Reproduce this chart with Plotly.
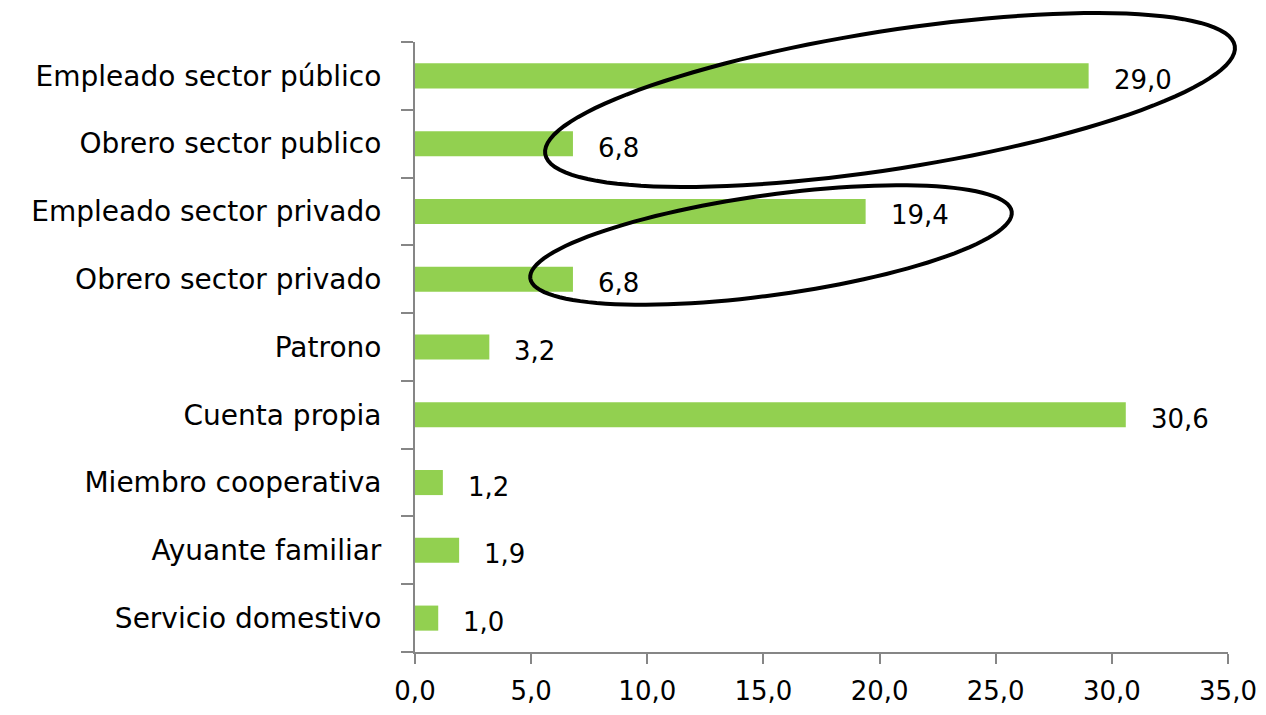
import math
import plotly.graph_objects as go

# categories top to bottom
categories = [
    "Empleado sector público",
    "Obrero sector publico",
    "Empleado sector privado",
    "Obrero sector privado",
    "Patrono",
    "Cuenta propia",
    "Miembro cooperativa",
    "Ayuante familiar",
    "Servicio domestivo",
]
values = [29.0, 6.8, 19.4, 6.8, 3.2, 30.6, 1.2, 1.9, 1.0]
x_ticks = [0, 5, 10, 15, 20, 25, 30, 35]

# page body has an 8px margin, so the figure is drawn slightly smaller
OFF = 8
W, H = 1250, 699
L, R, T, B = 415 - OFF, 30, 42 - OFF, 55
pw, ph = W - L - R, H - T - B

FONT = "DejaVu Sans, sans-serif"
GREY = "#868686"


def ellipse_path(cx, cy, a, b, deg, n=120):
    # ellipse in screen pixels, tilted up to the right, converted to paper coords
    th = math.radians(deg)
    cx, cy = cx - OFF, cy - OFF
    pts = []
    for i in range(n + 1):
        t = 2 * math.pi * i / n
        x = cx + a * math.cos(t) * math.cos(th) + b * math.sin(t) * math.sin(th)
        y = cy - a * math.cos(t) * math.sin(th) + b * math.sin(t) * math.cos(th)
        pts.append(((x - L) / pw, 1 - (y - T) / ph))
    return "M " + " L ".join(f"{px:.5f},{py:.5f}" for px, py in pts) + " Z"


fig = go.Figure()
fig.add_trace(go.Bar(
    x=values, y=categories, orientation="h",
    marker_color="#92D050", marker_line_width=0,
    hoverinfo="skip",
))

for v, c in zip(values, categories):
    fig.add_annotation(
        x=v, y=c, text=f"{v:.1f}".replace(".", ","),
        showarrow=False, xanchor="left", xshift=23, yshift=-4,
        font=dict(family=FONT, size=26, color="black"),
    )

fig.add_shape(type="path", xref="paper", yref="paper",
              path=ellipse_path(890, 100, 349, 69, 8.9),
              line=dict(color="black", width=4))
fig.add_shape(type="path", xref="paper", yref="paper",
              path=ellipse_path(771, 245, 243, 50, 7.9),
              line=dict(color="black", width=4))

fig.update_layout(
    width=W, height=H,
    margin=dict(l=L, r=R, t=T, b=B),
    plot_bgcolor="white", paper_bgcolor="white",
    showlegend=False,
    bargap=0.63,
    separators=",.",
    font=dict(family=FONT, size=26, color="black"),
)
fig.update_xaxes(
    range=[0, 35], tickvals=x_ticks, tickformat=".1f",
    automargin=False,
    showgrid=False, zeroline=False,
    showline=True, linecolor=GREY, linewidth=2,
    ticks="outside", ticklen=10, tickwidth=2, tickcolor=GREY,
    ticklabelstandoff=5,
    tickfont=dict(family=FONT, size=26, color="black"),
)
fig.update_yaxes(
    categoryorder="array", categoryarray=categories[::-1],
    automargin=False,
    showgrid=False, zeroline=False,
    showline=True, linecolor=GREY, linewidth=2,
    ticks="outside", tickson="boundaries", ticklen=12, tickwidth=2, tickcolor=GREY,
    ticklabelstandoff=26,
    tickfont=dict(family=FONT, size=28, color="black"),
)

fig.write_html("out.html")
